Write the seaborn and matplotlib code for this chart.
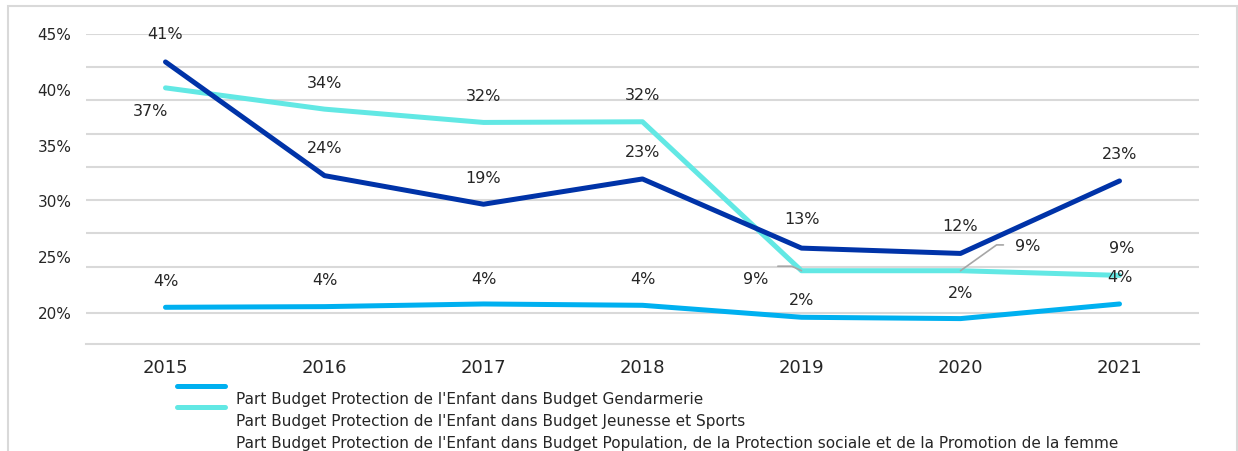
import numpy as np
import pandas as pd
import matplotlib
matplotlib.use("Agg")
import matplotlib.pyplot as plt
import seaborn as sns
from matplotlib.lines import Line2D
from matplotlib.legend_handler import HandlerLine2D
from matplotlib.patches import Rectangle
from matplotlib.ticker import FuncFormatter

# ---- data -------------------------------------------------------------
years = [2015, 2016, 2017, 2018, 2019, 2020, 2021]
gendarmerie = [3.9, 4.0, 4.4, 4.2, 2.4, 2.2, 4.4]
jeunesse_sports = [36.9, 33.7, 31.7, 31.8, 9.4, 9.4, 8.7]
population = [40.8, 23.7, 19.4, 23.2, 12.8, 12.0, 22.9]

series_names = [
    "Part Budget Protection de l'Enfant dans Budget Gendarmerie",
    "Part Budget Protection de l'Enfant dans Budget Jeunesse et Sports",
    "Part Budget Protection de l'Enfant dans Budget Population, de la Protection sociale et de la Promotion de la femme",
]
left_axis_ticks = [20, 25, 30, 35, 40, 45]
secondary_grid = [10, 15, 20, 25, 30, 35, 40, 45]

colors = ["#00B0F0", "#62E8E4", "#0033A8"]

df = pd.DataFrame({
    "year": years * 3,
    "share": gendarmerie + jeunesse_sports + population,
    "series": [series_names[0]] * 7 + [series_names[1]] * 7 + [series_names[2]] * 7,
})

# ---- style ------------------------------------------------------------
sns.set_style("white")
plt.rcParams["font.family"] = ["DejaVu Sans"]
TXT = "#262626"
GRID = "#D9D9D9"

W, H = 1238, 451
fig = plt.figure(figsize=(W / 100, H / 100), dpi=100)
left, right, top, bottom = 86, 1199, 34, 344
ax = fig.add_axes([left / W, 1 - bottom / H, (right - left) / W, (bottom - top) / H])
ax2 = ax.twinx()

# primary (left) axis: labels only
ax.set_ylim(17.17, 45.04)
ax.set_yticks(left_axis_ticks)
ax.yaxis.set_major_formatter(FuncFormatter(lambda v, _: f"{v:.0f}%"))
ax.set_xlim(2014.5, 2021.5)
ax.set_xticks(years)
ax.tick_params(axis="y", length=0, pad=10.5, labelsize=11, labelcolor=TXT)
ax.tick_params(axis="x", length=0, pad=11, labelsize=13, labelcolor=TXT)
for s in ["left", "right", "top"]:
    ax.spines[s].set_visible(False)
ax.spines["bottom"].set_color(GRID)
ax.spines["bottom"].set_linewidth(1.5)
ax.axhline(left_axis_ticks[0], color=GRID, lw=1.5, zorder=0)

# secondary axis carries the series
ax2.set_ylim(-1.62, 45.0)
ax2.set_yticks(secondary_grid)
ax2.tick_params(axis="y", length=0, labelright=False)
ax2.grid(axis="y", color=GRID, lw=1.5)
ax2.set_axisbelow(True)
for s in ax2.spines.values():
    s.set_visible(False)

sns.lineplot(data=df, x="year", y="share", hue="series", hue_order=series_names,
             palette=colors, lw=3.6, ax=ax2, legend=False, sort=False)
ax2.set_xlabel("")
ax2.set_ylabel("")
ax.set_xlabel("")
ax2.set_xlim(2014.5, 2021.5)

# ---- data labels ------------------------------------------------------
def fmt(v):
    return f"{round(v):.0f}%"

label_offsets = {
    0: [(0, -26), (0, -26), (0, -24), (0, -26), (0, -17), (0, -25), (0, -26)],
    1: [(-15, 24), (0, -26), (0, -26), (0, -26), (-46, 9), (67, -24), (2, -27)],
    2: [(0, -27), (0, -27), (0, -26), (0, -26), (0, -29), (0, -27), (0, -26)],
}
all_values = [gendarmerie, jeunesse_sports, population]
leaders = {
    (1, 4): dict(relpos=(1.38, 1.4), connectionstyle="angle,angleA=0,angleB=155,rad=0"),
    (1, 5): dict(relpos=(-0.45, 0.62), connectionstyle="angle,angleA=0,angleB=35.6,rad=0"),
}
for si, vals in enumerate(all_values):
    for xi, (yr, v) in enumerate(zip(years, vals)):
        dx, dy = label_offsets[si][xi]
        kw = {}
        if (si, xi) in leaders:
            lk = leaders[(si, xi)]
            kw["arrowprops"] = dict(arrowstyle="-", color="#A6A6A6", lw=1.2,
                                    shrinkA=0, shrinkB=0, relpos=lk["relpos"],
                                    connectionstyle=lk["connectionstyle"])
        ax2.annotate(fmt(v), xy=(yr, v), xytext=(dx * 0.72, -dy * 0.72),
                     textcoords="offset points", ha="center", va="center",
                     fontsize=11.5, color=TXT, **kw)


# ---- legend -----------------------------------------------------------
class RaisedLineHandler(HandlerLine2D):
    """Line key drawn a little above its label row."""

    def __init__(self, raise_pts, **kw):
        super().__init__(**kw)
        self.raise_pts = raise_pts

    def create_artists(self, legend, orig_handle, xdescent, ydescent, width,
                       height, fontsize, trans):
        artists = super().create_artists(legend, orig_handle, xdescent, ydescent,
                                         width, height, fontsize, trans)
        for a in artists:
            a.set_ydata(np.asarray(a.get_ydata(), dtype=float) + self.raise_pts)
        return artists


handles = ax2.lines[:3]
leg = fig.legend(handles, series_names, loc="upper left",
                 bbox_to_anchor=(177 / W, 1 - 392 / H), frameon=False,
                 fontsize=11, handlelength=3.14, handletextpad=0.72,
                 labelspacing=0.45, borderpad=0, borderaxespad=0,
                 handler_map={Line2D: RaisedLineHandler(9.4)})
for t in leg.get_texts():
    t.set_color(TXT)
leg.legend_handles[2].set_visible(False)

# ---- chart frame ------------------------------------------------------
fig.patches.append(Rectangle((8 / W, -0.2), (1237 - 8) / W, 1.2 - 6 / H,
                             transform=fig.transFigure, fill=False,
                             edgecolor=GRID, lw=1.5, clip_on=False))

fig.savefig("out.png", dpi=100)
